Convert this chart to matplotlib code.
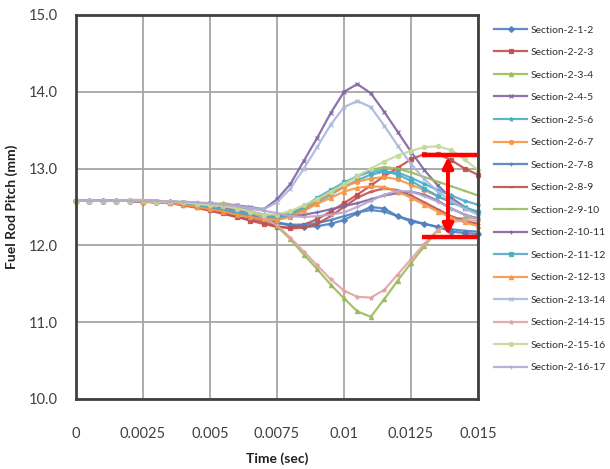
import matplotlib
matplotlib.use("Agg")
import matplotlib.pyplot as plt
import numpy as np

plt.rcParams['font.family'] = ['Lato', 'DejaVu Sans']

time = [i * 0.0005 for i in range(31)]

labels = ["Section-2-1-2", "Section-2-2-3", "Section-2-3-4", "Section-2-4-5",
          "Section-2-5-6", "Section-2-6-7", "Section-2-7-8", "Section-2-8-9",
          "Section-2-9-10", "Section-2-10-11", "Section-2-11-12", "Section-2-12-13",
          "Section-2-13-14", "Section-2-14-15", "Section-2-15-16", "Section-2-16-17"]

s_2_1_2 = [12.58, 12.58, 12.58, 12.58, 12.58, 12.57, 12.57, 12.56, 12.54, 12.52,
           12.49, 12.45, 12.41, 12.37, 12.33, 12.29, 12.26, 12.24, 12.25, 12.28,
           12.33, 12.42, 12.50, 12.48, 12.38, 12.31, 12.28, 12.24, 12.18, 12.16, 12.15]
s_2_2_3 = [12.58, 12.58, 12.58, 12.58, 12.58, 12.57, 12.56, 12.55, 12.53, 12.50,
           12.46, 12.42, 12.37, 12.32, 12.28, 12.24, 12.23, 12.27, 12.34, 12.44,
           12.55, 12.66, 12.78, 12.90, 13.01, 13.12, 13.19, 13.19, 13.11, 13.00, 12.92]
s_2_3_4 = [12.58, 12.58, 12.58, 12.58, 12.59, 12.59, 12.58, 12.57, 12.56, 12.55,
           12.53, 12.55, 12.52, 12.45, 12.36, 12.25, 12.08, 11.88, 11.69, 11.49,
           11.31, 11.14, 11.07, 11.30, 11.54, 11.77, 11.99, 12.20, 12.33, 12.36, 12.36]
s_2_4_5 = [12.58, 12.58, 12.58, 12.58, 12.58, 12.58, 12.57, 12.57, 12.56, 12.55,
           12.55, 12.53, 12.52, 12.50, 12.47, 12.60, 12.80, 13.10, 13.40, 13.72,
           14.00, 14.10, 13.98, 13.74, 13.48, 13.22, 12.98, 12.78, 12.62, 12.50, 12.42]
s_2_5_6 = [12.58, 12.58, 12.58, 12.58, 12.58, 12.57, 12.57, 12.56, 12.54, 12.51,
           12.48, 12.46, 12.43, 12.40, 12.38, 12.35, 12.38, 12.46, 12.56, 12.66,
           12.76, 12.85, 12.92, 12.96, 12.95, 12.88, 12.80, 12.72, 12.65, 12.58, 12.53]
s_2_6_7 = [12.58, 12.58, 12.58, 12.58, 12.58, 12.57, 12.56, 12.55, 12.53, 12.50,
           12.47, 12.44, 12.42, 12.40, 12.36, 12.35, 12.40, 12.48, 12.58, 12.68,
           12.76, 12.83, 12.87, 12.89, 12.86, 12.79, 12.72, 12.64, 12.56, 12.49, 12.43]
s_2_7_8 = [12.58, 12.58, 12.58, 12.58, 12.58, 12.57, 12.57, 12.56, 12.54, 12.51,
           12.48, 12.45, 12.42, 12.39, 12.35, 12.30, 12.27, 12.27, 12.29, 12.33,
           12.38, 12.43, 12.46, 12.44, 12.38, 12.33, 12.28, 12.24, 12.21, 12.19, 12.18]
s_2_8_9 = [12.58, 12.58, 12.58, 12.58, 12.58, 12.57, 12.56, 12.55, 12.52, 12.49,
           12.45, 12.41, 12.37, 12.34, 12.30, 12.25, 12.22, 12.23, 12.28, 12.38,
           12.50, 12.62, 12.70, 12.74, 12.72, 12.65, 12.56, 12.47, 12.38, 12.32, 12.28]
s_2_9_10 = [12.58, 12.58, 12.58, 12.58, 12.59, 12.59, 12.58, 12.57, 12.56, 12.54,
            12.52, 12.53, 12.50, 12.45, 12.40, 12.38, 12.42, 12.50, 12.60, 12.70,
            12.80, 12.90, 12.98, 13.02, 13.00, 12.95, 12.89, 12.83, 12.77, 12.71, 12.65]
s_2_10_11 = [12.58, 12.58, 12.58, 12.58, 12.58, 12.58, 12.57, 12.57, 12.56, 12.54,
             12.52, 12.49, 12.46, 12.43, 12.40, 12.38, 12.38, 12.40, 12.43, 12.47,
             12.51, 12.55, 12.60, 12.65, 12.68, 12.70, 12.66, 12.58, 12.48, 12.40, 12.35]
s_2_11_12 = [12.58, 12.58, 12.58, 12.58, 12.58, 12.57, 12.57, 12.56, 12.54, 12.52,
             12.49, 12.46, 12.43, 12.41, 12.38, 12.36, 12.40, 12.50, 12.62, 12.72,
             12.82, 12.90, 12.96, 12.97, 12.92, 12.84, 12.74, 12.64, 12.56, 12.49, 12.44]
s_2_12_13 = [12.58, 12.58, 12.58, 12.58, 12.58, 12.57, 12.56, 12.55, 12.53, 12.50,
             12.47, 12.44, 12.40, 12.37, 12.34, 12.33, 12.37, 12.45, 12.54, 12.62,
             12.70, 12.75, 12.77, 12.76, 12.70, 12.62, 12.53, 12.44, 12.36, 12.30, 12.25]
s_2_13_14 = [12.58, 12.58, 12.58, 12.58, 12.58, 12.58, 12.57, 12.57, 12.56, 12.55,
             12.54, 12.53, 12.51, 12.49, 12.47, 12.56, 12.74, 13.00, 13.28, 13.57,
             13.80, 13.88, 13.80, 13.56, 13.30, 13.06, 12.86, 12.70, 12.58, 12.48, 12.40]
s_2_14_15 = [12.58, 12.58, 12.58, 12.58, 12.59, 12.59, 12.58, 12.57, 12.56, 12.55,
             12.53, 12.54, 12.51, 12.44, 12.36, 12.26, 12.10, 11.92, 11.74, 11.56,
             11.41, 11.33, 11.32, 11.42, 11.62, 11.82, 12.02, 12.20, 12.30, 12.33, 12.32]
s_2_15_16 = [12.58, 12.58, 12.58, 12.58, 12.58, 12.58, 12.57, 12.57, 12.56, 12.54,
             12.52, 12.51, 12.48, 12.44, 12.40, 12.40, 12.45, 12.52, 12.60, 12.70,
             12.80, 12.90, 13.00, 13.09, 13.17, 13.23, 13.28, 13.29, 13.24, 13.12, 12.98]
s_2_16_17 = [12.58, 12.58, 12.58, 12.58, 12.58, 12.58, 12.58, 12.57, 12.57, 12.56,
             12.55, 12.53, 12.51, 12.48, 12.45, 12.42, 12.38, 12.37, 12.38, 12.40,
             12.43, 12.50, 12.58, 12.66, 12.71, 12.70, 12.64, 12.57, 12.48, 12.40, 12.34]

series = [s_2_1_2, s_2_2_3, s_2_3_4, s_2_4_5, s_2_5_6, s_2_6_7, s_2_7_8, s_2_8_9,
          s_2_9_10, s_2_10_11, s_2_11_12, s_2_12_13, s_2_13_14, s_2_14_15,
          s_2_15_16, s_2_16_17]

colors = ['#4F81BD', '#C0504D', '#9BBB59', '#8064A2', '#4BACC6', '#F79646',
          '#4F81BD', '#C0504D', '#9BBB59', '#8064A2', '#4BACC6', '#F79646',
          '#A9B6DE', '#E2A3A2', '#C5D99A', '#B7A8D1']
markers = ['D', 's', '^', 'x', '*', 'o', '+', '_', '_', '+', 's', '^',
           'x', '*', 'o', '+']

xticks = [0, 0.0025, 0.005, 0.0075, 0.01, 0.0125, 0.015]
xticklabels = ["0", "0.0025", "0.005", "0.0075", "0.01", "0.0125", "0.015"]
yticks = [10.0, 11.0, 12.0, 13.0, 14.0, 15.0]
yticklabels = ["10.0", "11.0", "12.0", "13.0", "14.0", "15.0"]

# annotation (red range bar)
bar_x0, bar_x1, bar_xa = 0.0129, 0.01497, 0.01388
bar_top, bar_bot = 13.18, 12.105

fig = plt.figure(figsize=(6.10, 4.69), dpi=100)
ax = fig.add_axes([0.1246, 0.1493, 0.6590, 0.8188])

for s, c, m, lab in zip(series, colors, markers, labels):
    ax.plot(time, s, color=c, marker=m, markersize=3.0, markeredgewidth=0.9,
            linewidth=1.6, label=lab, alpha=0.9, clip_on=False)

ax.plot([bar_x0, bar_x1], [bar_top, bar_top], color='#FF0000', linewidth=3.2,
        solid_capstyle='butt', zorder=10)
ax.plot([bar_x0, bar_x1], [bar_bot, bar_bot], color='#FF0000', linewidth=3.2,
        solid_capstyle='butt', zorder=10)
ax.annotate('', xy=(bar_xa, bar_top - 0.03), xytext=(bar_xa, bar_bot + 0.03),
            arrowprops=dict(arrowstyle='<|-|>', color='#FF0000', lw=2.8,
                            mutation_scale=16, shrinkA=0, shrinkB=0), zorder=11)

ax.set_xlim(0, 0.015)
ax.set_ylim(10, 15)
ax.set_xticks(xticks)
ax.set_xticklabels(xticklabels)
ax.set_yticks(yticks)
ax.set_yticklabels(yticklabels)
ax.grid(True, color='#A6A6A6', linewidth=1.3)
ax.set_axisbelow(True)
ax.tick_params(axis='both', length=0, labelsize=10.5, colors='#404040')
ax.tick_params(axis='x', pad=20)
ax.tick_params(axis='y', pad=13)
for sp in ax.spines.values():
    sp.set_color('#404040')
    sp.set_linewidth(2.0)

ax.set_xlabel('Time (sec)', fontsize=10, fontweight='bold', color='#202020', labelpad=8)
ax.set_ylabel('Fuel Rod Pitch (mm)', fontsize=10, fontweight='bold', color='#202020', labelpad=8)

leg = fig.legend(loc='upper left', bbox_to_anchor=(0.803, 0.955), frameon=False,
                 fontsize=7.5, labelspacing=1.27, handlelength=3.2, handletextpad=0.3,
                 borderaxespad=0)
for t in leg.get_texts():
    t.set_color('#303030')

fig.savefig('out.png', dpi=100)
